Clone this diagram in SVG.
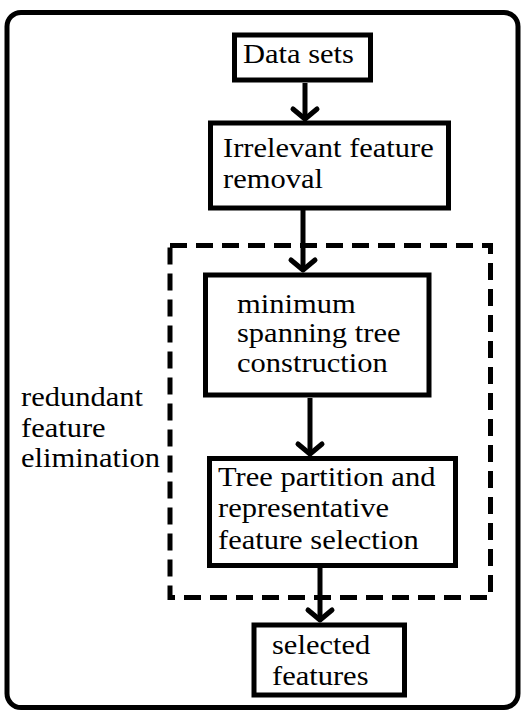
<svg xmlns="http://www.w3.org/2000/svg" width="521" height="711" viewBox="0 0 521 711">
<defs>
  <marker id="chev" markerUnits="userSpaceOnUse" viewBox="-16 -16 32 32" markerWidth="32" markerHeight="32" refX="0" refY="0" orient="auto" overflow="visible">
    <polyline points="-10,-12 0,0 -10,12" fill="none" stroke="#000" stroke-width="5" stroke-linejoin="round" stroke-linecap="round"/>
  </marker>
</defs>
<rect x="7" y="12.5" width="511" height="695" rx="14" ry="14" fill="#fff" stroke="#000" stroke-width="5"/>
<rect id="group-redundant" x="170" y="245.5" width="320.5" height="352" fill="none" stroke="#000" stroke-width="5" stroke-dasharray="17 9"/>
<g id="label-redundant">
  <text transform="translate(21,406) scale(1.09,1)" font-family="Liberation Serif" font-size="28">redundant</text>
  <text transform="translate(21,437) scale(1.09,1)" font-family="Liberation Serif" font-size="28">feature</text>
  <text transform="translate(21,467) scale(1.09,1)" font-family="Liberation Serif" font-size="28">elimination</text>
</g>
<g id="connectors" fill="none" stroke="#000" stroke-width="5">
  <path d="M305,83 V119" marker-end="url(#chev)"/>
  <path d="M303,210 V270" marker-end="url(#chev)"/>
  <path d="M310,398 V454" marker-end="url(#chev)"/>
  <path d="M320,568 V620" marker-end="url(#chev)"/>
</g>
<g id="node-datasets">
  <rect x="234.5" y="35" width="136" height="45" fill="#fff" stroke="#000" stroke-width="5"/>
  <text transform="translate(243,63) scale(1.09,1)" font-family="Liberation Serif" font-size="28">Data sets</text>
</g>
<g id="node-irrelevant">
  <rect x="210.5" y="123" width="238" height="85" fill="#fff" stroke="#000" stroke-width="5"/>
  <text transform="translate(223,157) scale(1.09,1)" font-family="Liberation Serif" font-size="28">Irrelevant feature</text>
  <text transform="translate(223,188) scale(1.09,1)" font-family="Liberation Serif" font-size="28">removal</text>
</g>
<g id="node-mst">
  <rect x="205.5" y="275" width="223.5" height="120" fill="#fff" stroke="#000" stroke-width="5"/>
  <text transform="translate(237,313) scale(1.09,1)" font-family="Liberation Serif" font-size="28">minimum</text>
  <text transform="translate(237,342) scale(1.09,1)" font-family="Liberation Serif" font-size="28">spanning tree</text>
  <text transform="translate(237,372) scale(1.09,1)" font-family="Liberation Serif" font-size="28">construction</text>
</g>
<g id="node-partition">
  <rect x="209.5" y="458.5" width="246" height="107" fill="#fff" stroke="#000" stroke-width="5"/>
  <text transform="translate(218,486) scale(1.09,1)" font-family="Liberation Serif" font-size="28">Tree partition and</text>
  <text transform="translate(218,517) scale(1.09,1)" font-family="Liberation Serif" font-size="28">representative</text>
  <text transform="translate(218,549) scale(1.09,1)" font-family="Liberation Serif" font-size="28">feature selection</text>
</g>
<g id="node-selected">
  <rect x="254" y="625" width="150.5" height="70" fill="#fff" stroke="#000" stroke-width="5"/>
  <text transform="translate(272,654) scale(1.09,1)" font-family="Liberation Serif" font-size="28">selected</text>
  <text transform="translate(272,685) scale(1.09,1)" font-family="Liberation Serif" font-size="28">features</text>
</g>
</svg>
